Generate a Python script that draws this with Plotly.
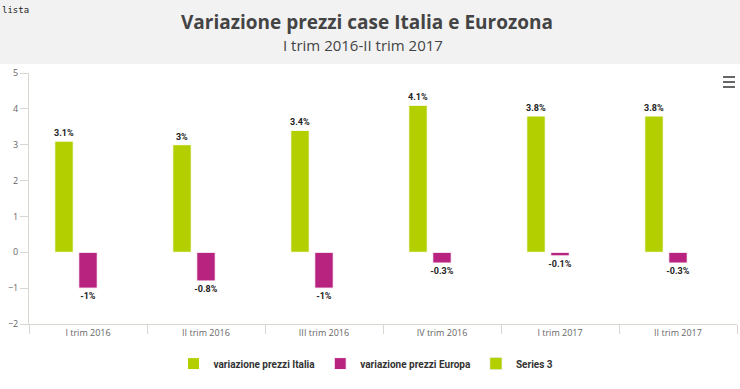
import plotly.graph_objects as go

categories = ["I trim 2016", "II trim 2016", "III trim 2016", "IV trim 2016", "I trim 2017", "II trim 2017"]
italia = [3.1, 3.0, 3.4, 4.1, 3.8, 3.8]
europa = [-1.0, -0.8, -1.0, -0.3, -0.1, -0.3]
series3 = [None, None, None, None, None, None]
italia_labels = ["3.1%", "3%", "3.4%", "4.1%", "3.8%", "3.8%"]
europa_labels = ["-1%", "-0.8%", "-1%", "-0.3%", "-0.1%", "-0.3%"]

GREEN = "#b3cf00"
MAGENTA = "#b8237f"
AXIS = "#d8d8d0"
FONT = "Open Sans"
LFONT = "Roboto"

fig = go.Figure()
fig.add_trace(go.Bar(x=categories, y=italia, name="variazione prezzi Italia",
                     marker=dict(color=GREEN, line=dict(color="white", width=1)),
                     text=italia_labels, textposition="outside", cliponaxis=False,
                     constraintext="none",
                     textfont=dict(size=9, color="#222", family=LFONT, weight="bold")))
fig.add_trace(go.Bar(x=categories, y=europa, name="variazione prezzi Europa",
                     marker=dict(color=MAGENTA, line=dict(color="white", width=1)),
                     text=europa_labels, textposition="outside", cliponaxis=False,
                     constraintext="none",
                     textfont=dict(size=9, color="#222", family=LFONT, weight="bold")))
fig.add_trace(go.Bar(x=categories, y=series3, name="Series 3",
                     marker=dict(color=GREEN)))

L, R, T, B = 29, 3, 73, 65
W, H = 740, 389
pw = W - L - R
ph = H - T - B

shapes = [
    dict(type="rect", xref="paper", yref="paper", layer="below",
         x0=-L / pw, x1=1 + R / pw, y0=1 + (T - 64) / ph, y1=1 + T / ph,
         fillcolor="#f2f2f2", line=dict(width=0)),
]
# menu icon
for dy in (77, 82, 87):
    shapes.append(dict(type="line", xref="paper", yref="paper",
                       x0=(723 - L) / pw, x1=(735 - L) / pw,
                       y0=1 - (dy - T) / ph, y1=1 - (dy - T) / ph,
                       line=dict(color="#666", width=2)))

fig.update_layout(
    width=W, height=H,
    margin=dict(l=L, r=R, t=T, b=B, autoexpand=False),
    paper_bgcolor="white", plot_bgcolor="white",
    font=dict(family=FONT, color="#666"),
    barmode="group", bargap=0.39, bargroupgap=0.23,
    showlegend=True,
    legend=dict(orientation="h", x=(366 - L) / pw, xanchor="center",
                y=-0.1, yanchor="top",
                font=dict(size=10, color="#333", family=LFONT, weight="bold"),
                itemwidth=30, traceorder="normal"),
    shapes=shapes,
    annotations=[
        dict(text="Variazione prezzi case Italia e Eurozona", xref="paper", yref="paper",
             x=(367 - L) / pw, y=1 + (T - 22) / ph, xanchor="center", yanchor="middle",
             showarrow=False, font=dict(size=19, color="#444", family=FONT, weight="bold")),
        dict(text="I trim 2016-II trim 2017", xref="paper", yref="paper",
             x=(363 - L) / pw, y=1 + (T - 45) / ph, xanchor="center", yanchor="middle",
             showarrow=False, font=dict(size=15, color="#444", family=FONT)),
        dict(text="lista", xref="paper", yref="paper",
             x=-L / pw, y=1 + (T - 10) / ph, xanchor="left", yanchor="middle",
             showarrow=False, font=dict(size=9, color="#222", family="DejaVu Sans Mono")),
    ],
)

fig.update_xaxes(showline=True, linecolor=AXIS, linewidth=1, automargin=False,
                 ticks="outside", tickson="boundaries", ticklen=9, tickcolor=AXIS,
                 tickfont=dict(size=9, color="#666"), showgrid=False)
fig.update_yaxes(range=[-2, 5], dtick=1, showline=True, linecolor=AXIS, linewidth=1,
                 automargin=False,
                 ticks="outside", ticklen=8, tickcolor=AXIS, showgrid=False,
                 zeroline=False, tickfont=dict(size=9, color="#666"))

fig.write_html("out.html", config={"displayModeBar": False},
               post_script="document.body.style.margin='0';document.body.style.overflow='hidden';")
